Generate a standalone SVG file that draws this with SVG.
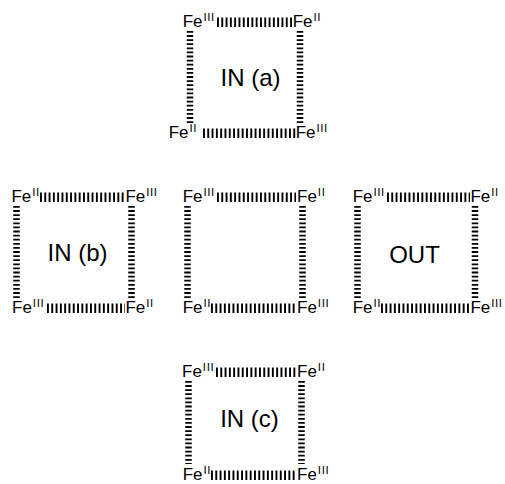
<svg xmlns="http://www.w3.org/2000/svg" width="505" height="484" viewBox="0 0 505 484">
  <style>
    .fe { font-family: "Liberation Sans", Arial, sans-serif; font-size: 17px; fill: #000; }
    .sup { font-size: 11.5px; letter-spacing: 0.6px; }
    .lbl { font-family: "Liberation Sans", Arial, sans-serif; font-size: 24px; fill: #000; text-anchor: middle; }
    .hb { stroke: #000; stroke-width: 9.5; stroke-dasharray: 1.9 2.4; fill: none; }
    .vb { stroke: #000; stroke-width: 6.5; stroke-dasharray: 1.8 2.3; fill: none; }
  </style>
  <rect width="505" height="484" fill="#fff"/>

  <!-- dashed Fe...Fe bonds -->
  <g id="connectors">
    <!-- square a -->
    <line class="hb" x1="217" y1="22.3" x2="294" y2="22.3"/>
    <line class="hb" x1="203" y1="133.3" x2="296" y2="133.3"/>
    <line class="vb" x1="190" y1="31" x2="190" y2="123"/>
    <line class="vb" x1="300" y1="31" x2="300" y2="123"/>
    <!-- square b -->
    <line class="hb" x1="40" y1="197.3" x2="125" y2="197.3"/>
    <line class="hb" x1="47" y1="308.3" x2="125" y2="308.3"/>
    <line class="vb" x1="16.5" y1="206" x2="16.5" y2="298"/>
    <line class="vb" x1="131.5" y1="206" x2="131.5" y2="298"/>
    <!-- middle square -->
    <line class="hb" x1="217" y1="197.3" x2="296" y2="197.3"/>
    <line class="hb" x1="211" y1="308.3" x2="296" y2="308.3"/>
    <line class="vb" x1="187.5" y1="206" x2="187.5" y2="298"/>
    <line class="vb" x1="302.5" y1="206" x2="302.5" y2="298"/>
    <!-- out square -->
    <line class="hb" x1="387" y1="197.3" x2="470" y2="197.3"/>
    <line class="hb" x1="381" y1="308.3" x2="470" y2="308.3"/>
    <line class="vb" x1="357.5" y1="206" x2="357.5" y2="298"/>
    <line class="vb" x1="475" y1="206" x2="475" y2="298"/>
    <!-- square c -->
    <line class="hb" x1="216" y1="372.3" x2="296" y2="372.3"/>
    <line class="hb" x1="211" y1="475.3" x2="296" y2="475.3"/>
    <line class="vb" x1="188.5" y1="381" x2="188.5" y2="464"/>
    <line class="vb" x1="301.5" y1="381" x2="301.5" y2="464"/>
  </g>

  <g id="square-a">
    <text class="fe" x="182.7" y="27">Fe<tspan class="sup" dx="1" dy="-6">III</tspan></text>
    <text class="fe" x="292.7" y="27">Fe<tspan class="sup" dx="1" dy="-6">II</tspan></text>
    <text class="fe" x="168.7" y="138">Fe<tspan class="sup" dx="1" dy="-6">II</tspan></text>
    <text class="fe" x="295.7" y="138">Fe<tspan class="sup" dx="1" dy="-6">III</tspan></text>
    <text class="lbl" x="250.5" y="86">IN (a)</text>
  </g>

  <g id="square-b">
    <text class="fe" x="11.4" y="202">Fe<tspan class="sup" dx="1" dy="-6">II</tspan></text>
    <text class="fe" x="125.4" y="202">Fe<tspan class="sup" dx="1" dy="-6">III</tspan></text>
    <text class="fe" x="12" y="313">Fe<tspan class="sup" dx="1" dy="-6">III</tspan></text>
    <text class="fe" x="125.4" y="313">Fe<tspan class="sup" dx="1" dy="-6">II</tspan></text>
    <text class="lbl" x="77.5" y="261">IN (b)</text>
  </g>

  <g id="square-middle">
    <text class="fe" x="182.7" y="202">Fe<tspan class="sup" dx="1" dy="-6">III</tspan></text>
    <text class="fe" x="297" y="202">Fe<tspan class="sup" dx="1" dy="-6">II</tspan></text>
    <text class="fe" x="182.7" y="313">Fe<tspan class="sup" dx="1" dy="-6">II</tspan></text>
    <text class="fe" x="297" y="313">Fe<tspan class="sup" dx="1" dy="-6">III</tspan></text>
  </g>

  <g id="square-out">
    <text class="fe" x="352.7" y="202">Fe<tspan class="sup" dx="1" dy="-6">III</tspan></text>
    <text class="fe" x="470.4" y="202">Fe<tspan class="sup" dx="1" dy="-6">II</tspan></text>
    <text class="fe" x="352.7" y="313">Fe<tspan class="sup" dx="1" dy="-6">II</tspan></text>
    <text class="fe" x="470.4" y="313">Fe<tspan class="sup" dx="1" dy="-6">III</tspan></text>
    <text class="lbl" x="414.5" y="263">OUT</text>
  </g>

  <g id="square-c">
    <text class="fe" x="182" y="377">Fe<tspan class="sup" dx="1" dy="-6">III</tspan></text>
    <text class="fe" x="297" y="377">Fe<tspan class="sup" dx="1" dy="-6">II</tspan></text>
    <text class="fe" x="182.7" y="480">Fe<tspan class="sup" dx="1" dy="-6">II</tspan></text>
    <text class="fe" x="297" y="480">Fe<tspan class="sup" dx="1" dy="-6">III</tspan></text>
    <text class="lbl" x="249.5" y="427">IN (c)</text>
  </g>
</svg>
